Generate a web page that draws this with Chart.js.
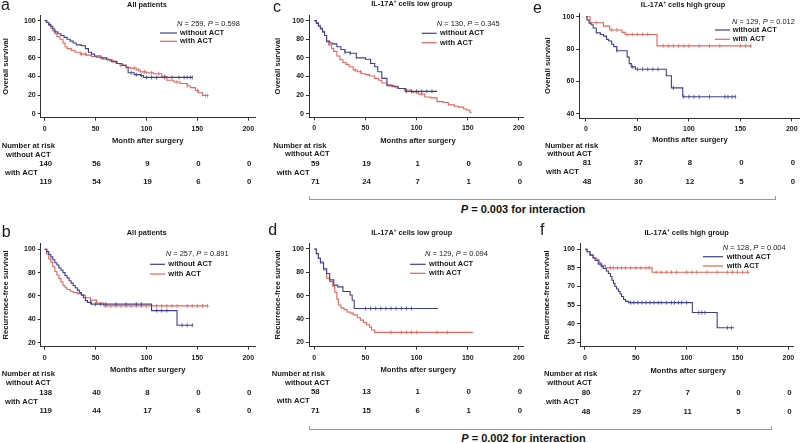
<!DOCTYPE html>
<html><head><meta charset="utf-8">
<script src="https://cdn.jsdelivr.net/npm/chart.js@4.4.0/dist/chart.umd.min.js"></script>
<style>
html,body{margin:0;padding:0;background:#fff;overflow:hidden;width:800px;height:443px;position:relative;font-family:"Liberation Sans",Arial,sans-serif;}
canvas{position:absolute;}
.br{position:absolute;border:1px solid #9a9a9a;border-top:none;height:4px;box-sizing:border-box;}
.bt{position:absolute;font-weight:bold;font-size:11px;color:#111;transform:translate(-50%,-50%);white-space:nowrap;}
</style></head><body>
<div class="br" style="left:309px;top:196px;width:467px;"></div>
<div class="bt" style="left:523px;top:208.5px;"><i>P</i> = 0.003 for interaction</div>
<div class="br" style="left:309px;top:426px;width:463px;"></div>
<div class="bt" style="left:523.5px;top:438px;"><i>P</i> = 0.002 for interaction</div>
<script>
// ---------- data ----------
const xTicks = [0, 50, 100, 150, 200];
const riskTimes = [0, 50, 100, 150, 200];
const yTicksOS = [0, 20, 40, 60, 80, 100];
const yTicksOSHigh = [40, 60, 80, 100];
const yTicksRFS = [20, 40, 60, 80, 100];
const yTicksRFSHigh = [25, 40, 55, 70, 85, 100];

const panelLetters = ['a', 'c', 'e', 'b', 'd', 'f'];
const panelTitles = ['All patients', 'IL-17A⁺ cells low group', 'IL-17A⁺ cells high group',
                     'All patients', 'IL-17A⁺ cells low group', 'IL-17A⁺ cells high group'];
const xTitles = ['Month after surgery', 'Months after surgery', 'Months after surgery',
                 'Months after surgery', 'Months after surgery', 'Months after surgery'];
const yTitles = ['Overall survival', 'Overall survival', 'Overall survival',
                 'Recurrence-free survival', 'Recurrence-free survival', 'Recurrence-free survival'];
const nValues = [259, 130, 129, 257, 129, 128];
const pValues = ['0.598', '0.345', '0.012', '0.891', '0.094', '0.004'];
const seriesNames = ['without ACT', 'with ACT'];

// a: OS all patients
const osAllNoT = [0, 2, 4, 6, 8, 10, 13, 16, 19, 22, 25, 28, 31, 36, 40, 43, 46, 49, 55, 61, 66, 71, 76, 80, 82, 88, 94, 97, 145];
const osAllNoS = [100, 98, 96, 94, 91, 88, 86, 84, 82, 80, 78, 76, 74, 73, 70, 66, 64, 62, 60, 58, 56, 54, 52, 50, 44, 42, 41, 39, 39];
const osAllNoC = [85, 90, 95, 100, 105, 110, 118, 125, 132, 137, 140, 143, 145];
const osAllActT = [0, 2, 4, 6, 8, 10, 12, 15, 18, 20, 22, 26, 30, 35, 41, 46, 51, 57, 64, 70, 74, 80, 84, 90, 94, 100, 107, 115, 120, 127, 133, 140, 143, 148, 151, 155, 161];
const osAllActS = [100, 98, 95, 92, 89, 86, 83, 80, 76, 72, 70, 68, 66, 64, 63, 61.5, 60.5, 58.5, 56.5, 54, 52, 50, 49, 47, 45, 44, 43, 40, 36, 34, 32.5, 30, 28, 25, 22.5, 19.5, 19.5];
const osAllActC = [36, 40, 55, 62, 67, 75, 80, 88, 92, 98, 105, 112, 118, 130, 140, 150, 158, 160];
const osAllRiskNo = [140, 56, 9, 0, 0];
const osAllRiskAct = [119, 54, 19, 6, 0];

// c: OS IL-17A low
const osLowNoT = [0, 2, 4, 6, 8, 10, 12, 15, 18, 22, 26, 30, 35, 41, 50, 55, 59, 62, 66, 71, 78, 82, 89, 120];
const osLowNoS = [100, 97, 94, 91, 88, 84, 78, 76, 75, 72, 69, 66, 65, 60, 58.5, 54, 50.5, 45, 38, 30, 29, 27, 24, 24];
const osLowNoC = [30, 35, 90, 95, 100, 105, 110, 115];
const osLowActT = [0, 2, 4, 6, 8, 10, 12, 14, 17, 19, 22, 25, 28, 31, 34, 38, 42, 46, 50, 54, 59, 63, 66, 71, 76, 82, 88, 95, 102, 108, 114, 120, 126, 131, 137, 141, 146, 149, 152, 154];
const osLowActS = [100, 98, 95, 92, 88, 84, 77, 74, 70, 67, 62, 58, 55, 53, 50.5, 47, 45, 43, 42, 40.5, 38, 36, 33, 31, 29, 27, 25.5, 23, 21, 18, 17, 13, 12, 9.5, 8, 7, 5, 4, 1.5, 1.5];
const osLowActC = [40, 45, 80, 90, 100, 105];
const osLowRiskNo = [59, 19, 1, 0, 0];
const osLowRiskAct = [71, 24, 7, 1, 0];

// e: OS IL-17A high
const osHighNoT = [0, 1, 3, 5, 7, 10, 14, 17, 20, 22, 25, 27, 30, 36, 40, 42, 44, 48, 75, 78, 83, 94, 146];
const osHighNoS = [100, 98, 96, 95, 93, 90, 89, 88, 86, 85, 83, 81.5, 79, 79, 75, 71, 69, 67.5, 67.5, 63.5, 56, 50.5, 50.5];
const osHighNoC = [30, 45, 50, 55, 60, 65, 70, 85, 95, 100, 105, 110, 120, 135, 138, 142, 145];
const osHighActT = [0, 4, 17, 23, 35, 38, 69, 161];
const osHighActS = [100, 96.3, 94.2, 91.8, 90.3, 89, 82, 82];
const osHighActC = [10, 25, 30, 40, 45, 50, 55, 60, 75, 80, 85, 90, 95, 100, 110, 120, 130, 150, 155, 160];
const osHighRiskNo = [81, 37, 8, 0, 0];
const osHighRiskAct = [48, 30, 12, 5, 0];

// b: RFS all patients
const rfsAllNoT = [0, 2, 4, 6, 8, 10, 12, 14, 16, 18, 20, 22, 24, 26, 28, 30, 32, 34, 36, 38, 40, 42, 46, 105, 130, 146];
const rfsAllNoS = [100, 98, 95.5, 93.5, 91, 88.5, 86.5, 84, 82, 80, 77.5, 75.5, 73, 71, 69, 67, 65, 63, 61, 58.5, 56, 54.5, 53, 47.5, 35, 35];
const rfsAllNoC = [45, 50, 55, 60, 70, 80, 90, 95, 110, 115, 120, 135, 140, 145];
const rfsAllActT = [0, 2, 4, 6, 8, 10, 12, 14, 16, 18, 20, 22, 25, 28, 32, 36, 40, 45, 51, 58, 161];
const rfsAllActS = [100, 96, 92, 89, 85, 81, 78, 75, 72, 69, 67, 65.5, 64, 63, 62, 60.5, 58.5, 56.5, 54, 51.5, 51.5];
const rfsAllActC = [60, 65, 70, 75, 80, 85, 90, 95, 100, 110, 115, 120, 125, 130, 140, 145, 150, 155, 160];
const rfsAllRiskNo = [138, 40, 8, 0, 0];
const rfsAllRiskAct = [119, 44, 17, 6, 0];

// d: RFS IL-17A low
const rfsLowNoT = [0, 2, 4, 6, 9, 12, 15, 19, 23, 28, 35, 37, 39, 121];
const rfsLowNoS = [100, 96, 92, 88, 83, 79, 73.5, 69, 67.5, 63.5, 60.5, 56, 49, 49];
const rfsLowNoC = [50, 55, 60, 65, 70, 75, 80, 85, 90, 95];
const rfsLowActT = [0, 2, 4, 6, 9, 12, 15, 18, 20, 22, 23.5, 26, 29, 32, 35, 38, 42, 45, 48, 51, 54, 56, 59, 155];
const rfsLowActS = [100, 96, 92, 89, 82, 75, 72, 68, 63, 57, 52, 49.5, 48, 46, 45, 43.5, 41, 39, 37, 35, 33, 30.5, 28.5, 28.5];
const rfsLowActC = [75, 85, 90, 95, 100, 120, 130];
const rfsLowRiskNo = [58, 13, 1, 0, 0];
const rfsLowRiskAct = [71, 15, 6, 1, 0];

// f: RFS IL-17A high
const rfsHighNoT = [0, 2, 5, 8, 10, 13, 16, 18, 21, 23, 25, 26.5, 28, 29.5, 31, 33, 34.5, 36, 38, 40, 43, 105.6, 130, 146.6];
const rfsHighNoS = [100, 98, 95.5, 93, 91, 88, 86, 84.5, 82.5, 80.5, 78, 75, 72.5, 70, 68, 66, 64, 62, 59.5, 58, 57, 49, 36.8, 36.8];
const rfsHighNoC = [45, 48, 52, 56, 60, 64, 68, 72, 75, 80, 85, 88, 92, 95, 100, 112, 115, 118, 140, 144];
const rfsHighActT = [0, 2, 5, 8, 11.5, 14, 16, 20, 66, 162];
const rfsHighActS = [100, 98, 95, 93, 91.5, 89, 87, 85, 81.5, 81.5];
const rfsHighActC = [25, 28, 32, 36, 40, 45, 50, 55, 60, 63, 70, 75, 80, 85, 90, 100, 105, 110, 120, 130, 140, 145, 150, 155, 160];
const rfsHighRiskNo = [80, 27, 7, 0, 0];
const rfsHighRiskAct = [48, 29, 11, 5, 0];

// ---------- styles / layout ----------
const BLUE = '#3e3f8e';
const RED = '#e2665e';
const AX = '#333333';
const TXT = '#1a1a1a';
const FAM = '"Liberation Sans", Arial, sans-serif';
const F = (size, weight, style) => `${style || 'normal'} ${weight || 'bold'} ${size}px ${FAM}`;

const panels = [
  { box: [0, 0, 265, 196], area: { l: 40.7, r: 255, t: 15, b: 117.7 }, xr: [-3.9, 206.6], yr: [-4.3, 106.1], yTicks: yTicksOS,
    no: [osAllNoT, osAllNoS, osAllNoC], act: [osAllActT, osAllActS, osAllActC], risk: [osAllRiskNo, osAllRiskAct],
    letter: [1, 10], title: [147, 4.7], yT: 6, xT: [147.7, 141],
    leg: { npx: 177, npy: 24, x1: 160, x2: 177, y1: 33, y2: 41.3, tx: 180 },
    rk: { lx: [1.7, 6, 5], ys: [146, 155, 164, 173, 182] } },
  { box: [265, 0, 265, 196], area: { l: 309, r: 523, t: 15, b: 117.3 }, xr: [-5.2, 204], yr: [-3.9, 106.1], yTicks: yTicksOS,
    no: [osLowNoT, osLowNoS, osLowNoC], act: [osLowActT, osLowActS, osLowActC], risk: [osLowRiskNo, osLowRiskAct],
    letter: [273, 11.7], title: [411.7, 4.3], yT: 278.3, xT: [418, 141],
    leg: { npx: 436.7, npy: 24, x1: 421.7, x2: 436.7, y1: 33.3, y2: 42.7, tx: 440 },
    rk: { lx: [273.3, 285, 276.7], ys: [145.7, 154.3, 164, 173.3, 182] } },
  { box: [530, 0, 290, 196], area: { l: 579.3, r: 799, t: 13, b: 118.3 }, xr: [-6.5, 207], yr: [37.2, 102.3], yTicks: yTicksOSHigh,
    no: [osHighNoT, osHighNoS, osHighNoC], act: [osHighActT, osHighActS, osHighActC], risk: [osHighRiskNo, osHighRiskAct],
    letter: [533, 13.3], title: [683, 5], yT: 548.3, xT: [690, 140],
    leg: { npx: 732, npy: 21.7, x1: 715, x2: 730, y1: 30, y2: 39.3, tx: 732.7 },
    rk: { lx: [545, 547.3, 546], ys: [145.7, 154.3, 163.3, 172.3, 181.7] } },
  { box: [0, 219, 265, 204], area: { l: 40.7, r: 255, t: 243.3, b: 346.7 }, xr: [-3.9, 206.6], yr: [16.6, 105.1], yTicks: yTicksRFS,
    no: [rfsAllNoT, rfsAllNoS, rfsAllNoC], act: [rfsAllActT, rfsAllActS, rfsAllActC], risk: [rfsAllRiskNo, rfsAllRiskAct],
    letter: [1.7, 236.7], title: [146.7, 233.3], yT: 6, xT: [147.7, 370],
    leg: { npx: 165.7, npy: 254.3, x1: 150, x2: 165, y1: 264.3, y2: 274, tx: 168.3 },
    rk: { lx: [1.7, 6, 5], ys: [374.3, 383.3, 393, 402, 410.7] } },
  { box: [265, 219, 265, 204], area: { l: 309, r: 523, t: 243, b: 346.7 }, xr: [-5.2, 204], yr: [16.2, 105.1], yTicks: yTicksRFS,
    no: [rfsLowNoT, rfsLowNoS, rfsLowNoC], act: [rfsLowActT, rfsLowActS, rfsLowActC], risk: [rfsLowRiskNo, rfsLowRiskAct],
    letter: [268.3, 235], title: [411.7, 233.3], yT: 277.7, xT: [418.3, 369.7],
    leg: { npx: 425, npy: 254.3, x1: 410, x2: 425.7, y1: 264.3, y2: 273.3, tx: 429 },
    rk: { lx: [271.7, 285, 276.7], ys: [374.3, 383.3, 392.3, 401.3, 410.7] } },
  { box: [530, 219, 290, 204], area: { l: 580, r: 793, t: 243.3, b: 346.7 }, xr: [-4.9, 204.6], yr: [21.5, 104.8], yTicks: yTicksRFSHigh,
    no: [rfsHighNoT, rfsHighNoS, rfsHighNoC], act: [rfsHighActT, rfsHighActS, rfsHighActC], risk: [rfsHighRiskNo, rfsHighRiskAct],
    letter: [540, 235], title: [686.7, 232.7], yT: 546.7, xT: [688.3, 370.7],
    leg: { npx: 722.7, npy: 248.3, x1: 703, x2: 723, y1: 256.7, y2: 266, tx: 726.7 },
    rk: { lx: [544, 547.3, 546], ys: [374.3, 383.3, 393.3, 402.3, 412] } }
];

// ---------- helpers ----------
function stepAt(t, s, c) { let v = s[0]; for (let i = 0; i < t.length; i++) { if (t[i] <= c) v = s[i]; } return v; }
function pts(t, s) { return t.map((x, i) => ({ x: x, y: s[i] })); }
function cens(t, s, c) { return c.map(x => ({ x: x, y: stepAt(t, s, x) })); }

function drawParts(ctx, parts, x, y, align) {
  let w = 0;
  parts.forEach(p => { ctx.font = p.f; w += ctx.measureText(p.s).width; });
  let cx = align === 'center' ? x - w / 2 : (align === 'right' ? x - w : x);
  ctx.textAlign = 'left';
  parts.forEach(p => { ctx.font = p.f; ctx.fillText(p.s, cx, y + (p.dy || 0)); cx += ctx.measureText(p.s).width; });
}

function panelPlugin(p, idx) {
  return {
    id: 'panelText' + idx,
    afterDraw(chart) {
      const ctx = chart.ctx;
      const L = p.box[0], T = p.box[1];
      ctx.save();
      ctx.fillStyle = TXT;
      // letter
      ctx.font = `normal normal 16px ${FAM}`;
      ctx.textBaseline = 'alphabetic';
      ctx.textAlign = 'left';
      ctx.fillText(panelLetters[idx], p.letter[0] - L, p.letter[1] - T);
      // title
      ctx.textBaseline = 'middle';
      const tt = panelTitles[idx].split('⁺');
      const tparts = [{ s: tt[0], f: F(7.4) }];
      if (tt.length > 1) { tparts.push({ s: '+', f: F(4.5), dy: -2.2 }); tparts.push({ s: tt[1], f: F(7.4) }); }
      drawParts(ctx, tparts, p.title[0] - L, p.title[1] - T, 'center');
      // x title
      ctx.font = F(7.6); ctx.textAlign = 'center';
      ctx.fillText(xTitles[idx], p.xT[0] - L, p.xT[1] - T);
      // y title
      const ca = chart.chartArea;
      ctx.save();
      ctx.translate(p.yT - L, (ca.top + ca.bottom) / 2);
      ctx.rotate(-Math.PI / 2);
      ctx.font = F(7.6); ctx.textAlign = 'center';
      ctx.fillText(yTitles[idx], 0, 0);
      ctx.restore();
      // legend
      const lg = p.leg;
      drawParts(ctx, [
        { s: 'N', f: F(7.5, 'normal', 'italic') },
        { s: ' = ' + nValues[idx] + ', ', f: F(7.5, 'normal') },
        { s: 'P', f: F(7.5, 'normal', 'italic') },
        { s: ' = ' + pValues[idx], f: F(7.5, 'normal') }
      ], lg.npx - L, lg.npy - T, 'left');
      const cols = [BLUE, RED];
      [lg.y1, lg.y2].forEach((yy, k) => {
        ctx.strokeStyle = cols[k]; ctx.lineWidth = 1.2;
        ctx.beginPath(); ctx.moveTo(lg.x1 - L, yy - T); ctx.lineTo(lg.x2 - L, yy - T); ctx.stroke();
        ctx.font = F(7.5); ctx.textAlign = 'left';
        ctx.fillText(seriesNames[k], lg.tx - L, yy - T);
      });
      // risk table
      const rk = p.rk;
      ctx.font = F(7.6); ctx.textAlign = 'left';
      ctx.fillText('Number at risk', rk.lx[0] - L, rk.ys[0] - T);
      ctx.fillText(seriesNames[0], rk.lx[1] - L, rk.ys[1] - T);
      ctx.fillText(seriesNames[1], rk.lx[2] - L, rk.ys[3] - T);
      const xs = chart.scales.x;
      ctx.font = F(7.8); ctx.textAlign = 'center';
      riskTimes.forEach((t, i) => {
        const px = xs.getPixelForValue(t) + 1;
        ctx.fillText(String(p.risk[0][i]), px, rk.ys[2] - T);
        ctx.fillText(String(p.risk[1][i]), px, rk.ys[4] - T);
      });
      ctx.restore();
    }
  };
}

function makeChart(p, idx) {
  const cv = document.createElement('canvas');
  cv.width = p.box[2]; cv.height = p.box[3];
  cv.style.left = p.box[0] + 'px'; cv.style.top = p.box[1] + 'px';
  cv.style.width = p.box[2] + 'px'; cv.style.height = p.box[3] + 'px';
  document.body.appendChild(cv);
  const L = p.box[0], T = p.box[1], W = p.box[2], H = p.box[3];
  const xH = 20;
  const lineDs = (d, col) => ({ data: pts(d[0], d[1]), borderColor: col, borderWidth: 1.1, stepped: true, pointRadius: 0, fill: false, order: 2 });
  const censDs = (d, col) => ({ data: cens(d[0], d[1], d[2]), showLine: false, pointStyle: 'line', pointRotation: 90, pointRadius: 2,
                                pointBorderColor: col, pointBorderWidth: 0.8, borderColor: col, order: 1 });
  const tickFont = { family: FAM, size: 7, weight: 'bold' };
  new Chart(cv, {
    type: 'line',
    data: { datasets: [lineDs(p.no, BLUE), lineDs(p.act, RED), censDs(p.no, BLUE), censDs(p.act, RED)] },
    options: {
      responsive: false, animation: false, devicePixelRatio: 1,
      layout: { padding: { left: 0, top: p.area.t - T, right: L + W - p.area.r, bottom: T + H - p.area.b - xH } },
      plugins: { legend: { display: false }, tooltip: { enabled: false } },
      scales: {
        x: {
          type: 'linear', min: p.xr[0], max: p.xr[1],
          afterBuildTicks: s => { s.ticks = xTicks.map(v => ({ value: v })); },
          afterFit: s => { s.height = xH; },
          grid: { drawOnChartArea: false, drawTicks: true, tickLength: 3, color: AX },
          border: { display: true, color: AX, width: 1 },
          ticks: { font: tickFont, color: TXT, padding: 4, maxRotation: 0, autoSkip: false }
        },
        y: {
          type: 'linear', min: p.yr[0], max: p.yr[1],
          afterBuildTicks: s => { s.ticks = p.yTicks.map(v => ({ value: v })); },
          afterFit: s => { s.width = p.area.l - L; },
          grid: { drawOnChartArea: false, drawTicks: true, tickLength: 3, color: AX },
          border: { display: true, color: AX, width: 1 },
          ticks: { font: tickFont, color: TXT, padding: 2, autoSkip: false }
        }
      }
    },
    plugins: [panelPlugin(p, idx)]
  });
}

panels.forEach((p, i) => makeChart(p, i));
</script>
</body></html>
